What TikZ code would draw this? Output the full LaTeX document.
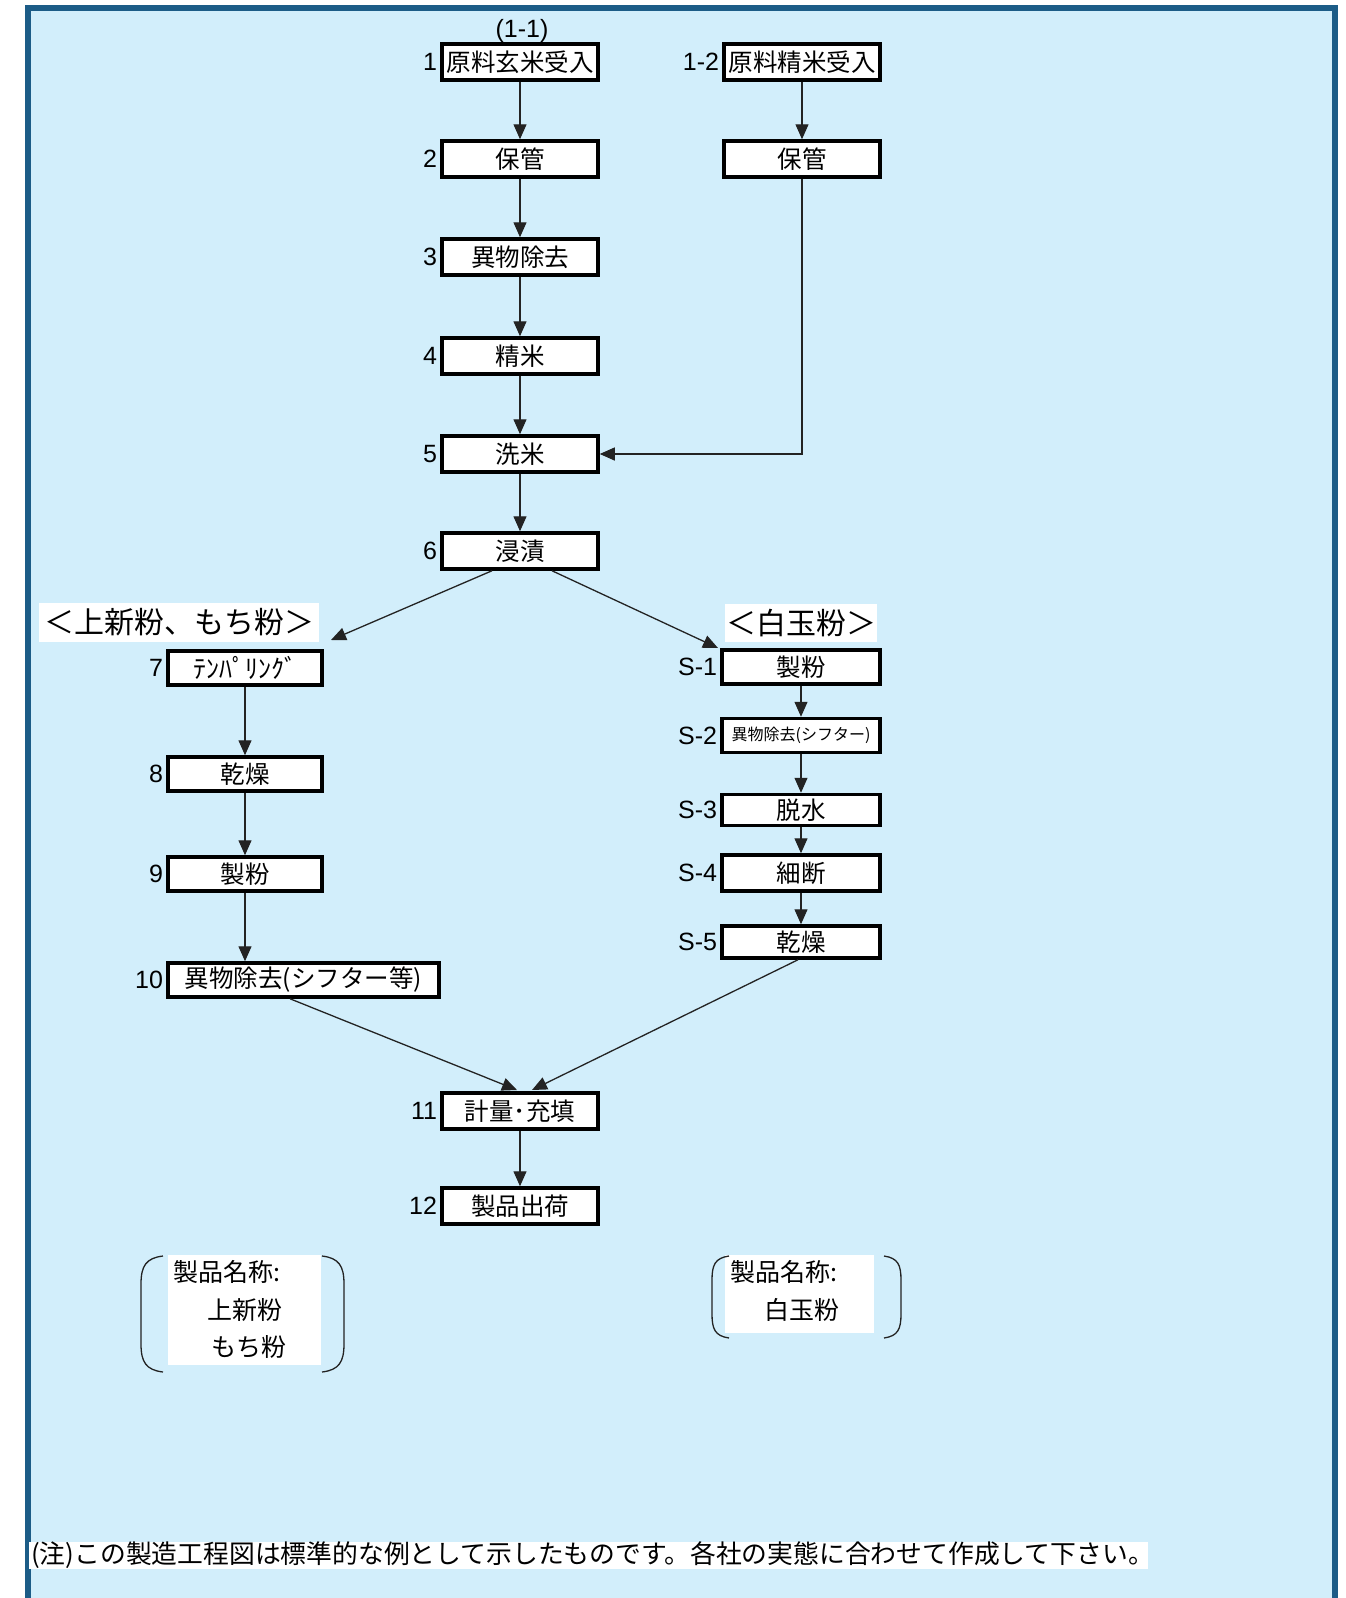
\documentclass[tikz,border=0pt]{standalone}
\usepackage{fontspec}
\newfontfamily\jp{Noto Sans CJK JP}
\newfontfamily\lib{Liberation Sans}
\usetikzlibrary{arrows.meta}
\definecolor{bgblue}{RGB}{210,238,251}
\definecolor{frameblue}{RGB}{28,92,135}
\definecolor{lineg}{RGB}{35,35,35}
\begin{document}
\begin{tikzpicture}[x=1pt,y=-1pt,
  box/.style={draw=black, line width=3.5pt, fill=white, minimum width=156pt, minimum height=36pt, inner sep=0pt, font=\jp\fontsize{24.5}{28}\selectfont},
  sbox/.style={box, minimum width=158pt, minimum height=34pt},
  lbox/.style={box, minimum width=154pt, minimum height=34pt},
  num/.style={anchor=east, inner sep=1pt, font=\lib\fontsize{25}{28}\selectfont},
  arr/.style={draw=lineg, line width=1.3pt, -{Triangle[length=15pt,width=13pt]}},
  ttl/.style={fill=white, inner sep=0pt, font=\jp\fontsize{30}{34}\selectfont},
  pn/.style={anchor=west, inner sep=0pt, font=\jp\fontsize{25}{28}\selectfont},
  wbg/.style={fill=white, inner sep=0pt},
  brk/.style={draw=lineg, line width=1.3pt},
]
\useasboundingbox (0,0) rectangle (1345,1598);
\fill[white] (0,0) rectangle (1345,1598);
\fill[bgblue] (28,8) rectangle (1335,1598);
\draw[frameblue, line width=6pt] (28,1602) -- (28,8) -- (1335,8) -- (1335,1602);

% main column
\node[num, anchor=center] (l11) at (522,31) {(1-1)};
\node[box] (n1) at (520,62) {原料玄米受入};
\node[box] (n2) at (520,159) {保管};
\node[box] (n3) at (520,257) {異物除去};
\node[box] (n4) at (520,356) {精米};
\node[box] (n5) at (520,454) {洗米};
\node[box] (n6) at (520,551) {浸漬};
\node[box] (r1) at (802,62) {原料精米受入};
\node[box] (r2) at (802,159) {保管};
\node[num] (l1) at ([xshift=-2pt]n1.west) {1};
\node[num] (l2) at ([xshift=-2pt]n2.west) {2};
\node[num] (l3) at ([xshift=-2pt]n3.west) {3};
\node[num] (l4) at ([xshift=-2pt]n4.west) {4};
\node[num] (l5) at ([xshift=-2pt]n5.west) {5};
\node[num] (l6) at ([xshift=-2pt]n6.west) {6};
\node[num] (l12r) at ([xshift=-2pt]r1.west) {1-2};

% titles
\node[ttl, minimum width=280pt, minimum height=39pt] (tl) at (179,622.5) {＜上新粉、もち粉＞};
\node[ttl, minimum width=152pt, minimum height=38pt] (tr) at (801,623) {＜白玉粉＞};

% left branch
\node[lbox] (n7) at (245,668) {\fontsize{26}{28}\selectfont ﾃﾝﾊﾟﾘﾝｸﾞ};
\node[lbox] (n8) at (245,774) {乾燥};
\node[lbox] (n9) at (245,874) {製粉};
\node[lbox, minimum width=271pt] (n10) at (303.5,980) {異物除去(シフター等)};
\node[num] (l7) at ([xshift=-2pt]n7.west) {7};
\node[num] (l8) at ([xshift=-2pt]n8.west) {8};
\node[num] (l9) at ([xshift=-2pt]n9.west) {9};
\node[num] (l10) at ([xshift=-2pt]n10.west) {10};

% right branch
\node[sbox] (s1) at (801,667) {製粉};
\node[sbox] (s2) at (801,735.5) {\fontsize{16}{18}\selectfont 異物除去(シフター)};
\node[sbox, minimum height=31pt] (s3) at (801,810) {脱水};
\node[sbox, minimum height=36pt] (s4) at (801,873) {細断};
\node[sbox, minimum height=32pt] (s5) at (801,942) {乾燥};
\node[num] (ls1) at ([xshift=-2pt]s1.west) {S-1};
\node[num] (ls2) at ([xshift=-2pt]s2.west) {S-2};
\node[num] (ls3) at ([xshift=-2pt]s3.west) {S-3};
\node[num] (ls4) at ([xshift=-2pt]s4.west) {S-4};
\node[num] (ls5) at ([xshift=-2pt]s5.west) {S-5};

% end
\node[box] (n11) at (520,1111) {計量･充填};
\node[box] (n12) at (520,1206) {製品出荷};
\node[num] (l11b) at ([xshift=-2pt]n11.west) {11};
\node[num] (l12) at ([xshift=-2pt]n12.west) {12};

% connectors
\draw[arr] (n1) -- (n2);
\draw[arr] (n2) -- (n3);
\draw[arr] (n3) -- (n4);
\draw[arr] (n4) -- (n5);
\draw[arr] (n5) -- (n6);
\draw[arr] (r1) -- (r2);
\draw[arr] (r2.south) |- (n5.east);
\coordinate (t7) at (331,640);
\coordinate (ts1) at (718,648);
\draw[arr] ([xshift=-28pt]n6.south) -- (t7);
\draw[arr] ([xshift=32pt]n6.south) -- (ts1);
\draw[arr] (n7) -- (n8);
\draw[arr] (n8) -- (n9);
\draw[arr] (n9.south) -- (n9.south |- n10.north);
\draw[arr] (s1) -- (s2);
\draw[arr] (s2) -- (s3);
\draw[arr] (s3) -- (s4);
\draw[arr] (s4) -- (s5);
\coordinate (t11a) at (517,1090);
\coordinate (t11b) at (532,1090);
\draw[arr] ([xshift=-13.5pt]n10.south) -- (t11a);
\draw[arr] ([xshift=-3pt]s5.south) -- (t11b);
\draw[arr] (n11) -- (n12);

% product names
\node[wbg, minimum width=153pt, minimum height=110pt] (pbl) at (244.5,1310) {};
\node[pn] (pl1) at (173,1272) {製品名称:};
\node[pn] (pl2) at (207,1310) {上新粉};
\node[pn] (pl3) at (211,1347) {もち粉};
\draw[brk] (163,1256) .. controls (146,1258) and (141,1266) .. (141,1284) -- (141,1344) .. controls (141,1362) and (146,1370) .. (163,1372);
\draw[brk] (322,1256) .. controls (339,1258) and (344,1266) .. (344,1284) -- (344,1344) .. controls (344,1362) and (339,1370) .. (322,1372);

\node[wbg, minimum width=149pt, minimum height=78pt] (pbr) at (799.5,1294) {};
\node[pn] (pr1) at (730,1272) {製品名称:};
\node[pn] (pr2) at (764,1310) {白玉粉};
\draw[brk] (729,1256) .. controls (715,1258) and (712,1265) .. (712,1280) -- (712,1314) .. controls (712,1329) and (715,1336) .. (729,1338);
\draw[brk] (884,1256) .. controls (898,1258) and (901,1265) .. (901,1280) -- (901,1314) .. controls (901,1329) and (898,1336) .. (884,1338);

% footnote
\node[fill=white, anchor=west, inner xsep=2pt, inner ysep=0pt, minimum height=27pt, text width=1115pt, align=left, font=\jp\fontsize{25.8}{27}\selectfont] (fn) at (29,1555.5) {(注)この製造工程図は標準的な例として示したものです。各社の実態に合わせて作成して下さい。};
\end{tikzpicture}
\end{document}
